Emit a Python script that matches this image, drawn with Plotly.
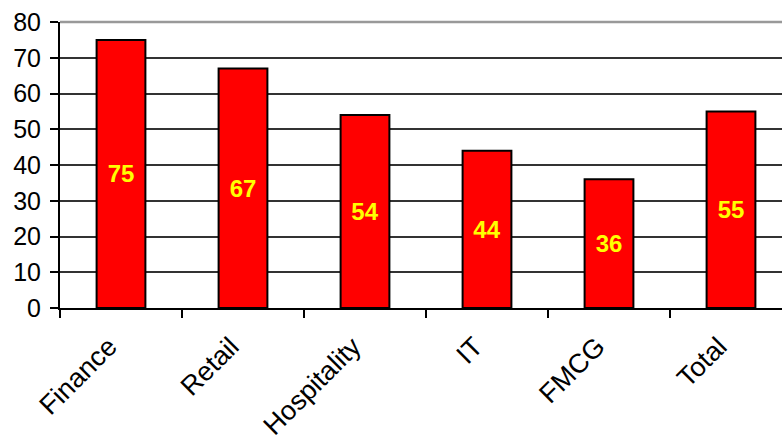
import plotly.graph_objects as go

# Share of respondents by sector
sectors = ["Finance", "Retail", "Hospitality", "IT", "FMCG", "Total"]
values = [75, 67, 54, 44, 36, 55]
y_ticks = [0, 10, 20, 30, 40, 50, 60, 70, 80]

FONT = "Liberation Sans, Arial, sans-serif"

fig = go.Figure(
    go.Bar(
        x=sectors,
        y=values,
        marker=dict(color="#FF0000", line=dict(color="#000000", width=2)),
        text=[str(v) for v in values],
        textposition="inside",
        insidetextanchor="middle",
        textangle=0,
        textfont=dict(family=FONT, size=24, color="#FFFF00", weight="bold"),
        hoverinfo="x+y",
    )
)

fig.update_layout(
    width=782,
    height=435,
    margin=dict(l=60, r=0, t=22, b=127),
    paper_bgcolor="white",
    plot_bgcolor="white",
    bargap=0.6,
    showlegend=False,
    font=dict(family=FONT, size=24, color="#000000"),
)

fig.update_xaxes(
    type="category",
    range=[-0.5, 5.418],
    automargin=False,
    tickson="boundaries",
    ticks="outside",
    ticklen=8,
    tickwidth=1.5,
    tickcolor="#000000",
    tickangle=-45,
    ticklabelstandoff=10,
    ticklabelshift=-12,
    showline=True,
    linecolor="#000000",
    linewidth=2,
    showgrid=False,
    tickfont=dict(family=FONT, size=27, color="#000000"),
)

fig.update_yaxes(
    range=[0, 80],
    automargin=False,
    tickvals=y_ticks,
    ticks="outside",
    ticklen=8,
    tickwidth=1.5,
    tickcolor="#000000",
    ticklabelstandoff=4,
    showline=True,
    linecolor="#000000",
    linewidth=2,
    showgrid=True,
    gridcolor="#333333",
    gridwidth=1.5,
    zeroline=False,
    tickfont=dict(family=FONT, size=25, color="#000000"),
)

# light grey frame edge along the top of the plot area
fig.add_shape(
    type="line", xref="paper", yref="paper",
    x0=0, x1=1, y0=1, y1=1,
    line=dict(color="#999999", width=2.5),
    layer="above",
)

fig.write_html("out.html")
